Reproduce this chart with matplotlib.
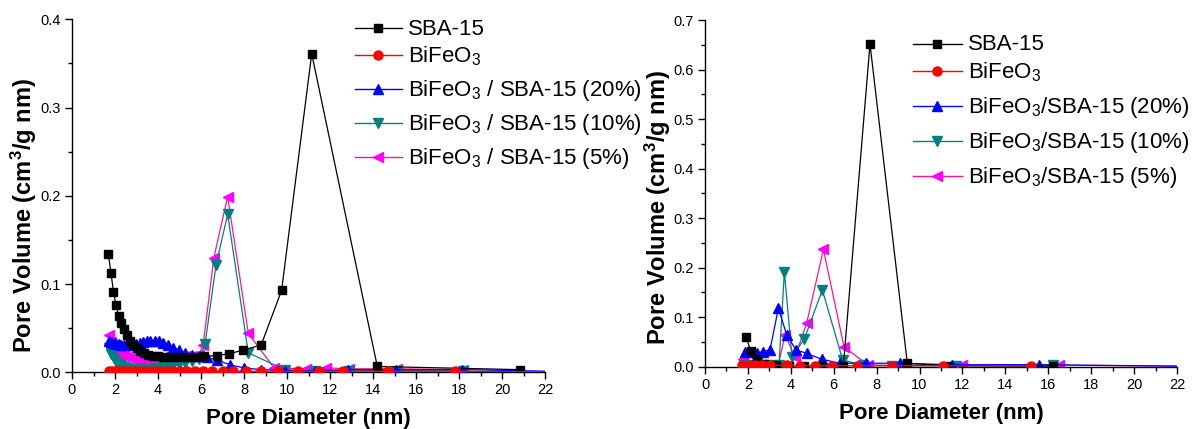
import matplotlib
matplotlib.use('Agg')
import matplotlib.pyplot as plt
from matplotlib.lines import Line2D
from matplotlib.ticker import MultipleLocator, FormatStrFormatter

plt.rcParams['font.family'] = ['Liberation Sans', 'DejaVu Sans']
plt.rcParams['mathtext.fontset'] = 'custom'
plt.rcParams['mathtext.rm'] = 'Liberation Sans'
plt.rcParams['mathtext.it'] = 'Liberation Sans:italic'
plt.rcParams['mathtext.bf'] = 'Liberation Sans:bold'

# ---------------- data: left panel ----------------
left_labels = ['SBA-15', 'BiFeO$_3$', 'BiFeO$_3$ / SBA-15 (20%)',
               'BiFeO$_3$ / SBA-15 (10%)', 'BiFeO$_3$ / SBA-15 (5%)']

L_sba_x = [1.69, 1.81, 1.93, 2.05, 2.17, 2.29, 2.42, 2.55, 2.69, 2.84, 3.0, 3.17,
           3.35, 3.55, 3.77, 4.0, 4.25, 4.55, 4.9, 5.3, 5.7, 6.15, 6.73, 7.3, 7.95,
           8.8, 9.75, 11.15, 14.2, 20.85]
L_sba_y = [0.134, 0.113, 0.091, 0.076, 0.064, 0.056, 0.049, 0.042, 0.036, 0.031, 0.027,
           0.024, 0.022, 0.020, 0.019, 0.018, 0.017, 0.017, 0.017, 0.017, 0.017, 0.018,
           0.019, 0.021, 0.025, 0.031, 0.093, 0.361, 0.0066, 0.003]

L_bfo_x = [1.7, 1.85, 2.0, 2.15, 2.3, 2.5, 2.7, 2.9, 3.1, 3.35, 3.6, 3.85, 4.1, 4.4,
           4.7, 5.0, 5.35, 5.7, 6.1, 6.5, 7.0, 7.5, 8.1, 8.8, 9.6, 10.5, 11.5, 12.6,
           14.7, 17.8, 25.0]
L_bfo_y = [0.0015, 0.0016, 0.0015, 0.0014, 0.0014, 0.0013, 0.0013, 0.0012, 0.0012,
           0.0012, 0.0012, 0.0012, 0.0012, 0.0012, 0.0012, 0.0012, 0.0012, 0.0012,
           0.0012, 0.0012, 0.0012, 0.0012, 0.0012, 0.0012, 0.0012, 0.0012, 0.0012,
           0.0012, 0.0012, 0.0012, 0.0]

L_dense_x = [1.7, 1.82, 1.94, 2.06, 2.18, 2.3, 2.43, 2.56, 2.7, 2.84, 2.99, 3.14, 3.3,
             3.47, 3.65, 3.84, 4.04, 4.25, 4.48, 4.72, 4.98, 5.26, 5.56, 5.9]

L_b20_x = L_dense_x + [6.27, 6.73, 7.35, 8.0, 8.8, 9.9, 11.3, 12.85, 15.05, 18.15, 25.0]
L_b20_y = [0.036, 0.034, 0.033, 0.032, 0.032, 0.031, 0.031, 0.031, 0.031, 0.032, 0.032,
           0.033, 0.034, 0.035, 0.036, 0.036, 0.035, 0.033, 0.031, 0.028, 0.025, 0.022,
           0.020, 0.018, 0.017, 0.014, 0.0085, 0.005, 0.003, 0.002, 0.002, 0.003, 0.003,
           0.003, 0.0]

L_b10_x = L_dense_x + [6.19, 6.7, 7.24, 8.2, 9.9, 11.3, 12.9, 15.1, 18.2]
L_b10_y = [0.027, 0.021, 0.016, 0.012, 0.009, 0.007, 0.006, 0.005, 0.004, 0.004, 0.004,
           0.004, 0.004, 0.004, 0.004, 0.005, 0.005, 0.006, 0.007, 0.008, 0.009, 0.011,
           0.013, 0.015, 0.032, 0.122, 0.179, 0.022, 0.003, 0.002, 0.002, 0.002, 0.002]

L_b5_x = L_dense_x + [6.1, 6.6, 7.24, 8.2, 9.4, 10.9, 11.8, 12.9, 15.1, 18.2]
L_b5_y = [0.042, 0.034, 0.028, 0.024, 0.021, 0.019, 0.018, 0.017, 0.016, 0.015, 0.015,
          0.015, 0.015, 0.015, 0.015, 0.016, 0.016, 0.017, 0.017, 0.018, 0.018, 0.019,
          0.019, 0.020, 0.031, 0.130, 0.199, 0.044, 0.005, 0.004, 0.005, 0.004, 0.004,
          0.003]

# ---------------- data: right panel ----------------
right_labels = ['SBA-15', 'BiFeO$_3$', 'BiFeO$_3$/SBA-15 (20%)',
                'BiFeO$_3$/SBA-15 (10%)', 'BiFeO$_3$/SBA-15 (5%)']

R_sba_x = [1.91, 2.14, 2.41, 2.8, 3.3, 3.9, 4.6, 5.4, 6.45, 7.69, 9.43, 11.3, 16.2]
R_sba_y = [0.060, 0.031, 0.015, 0.005, 0.003, 0.002, 0.002, 0.002, 0.002, 0.652, 0.007,
           0.002, 0.001]

R_bfo_x = [1.71, 2.02, 2.33, 2.65, 3.03, 3.81, 4.43, 5.13, 5.9, 7.07, 8.7, 11.1, 15.2]
R_bfo_y = [0.003, 0.003, 0.003, 0.003, 0.003, 0.003, 0.002, 0.002, 0.002, 0.002, 0.002,
           0.002, 0.002]

R_b20_x = [1.86, 2.18, 2.41, 2.69, 3.03, 3.42, 3.81, 4.24, 4.74, 5.44, 6.29, 7.49, 9.09,
           11.5, 15.57, 25.0]
R_b20_y = [0.030, 0.030, 0.028, 0.030, 0.034, 0.118, 0.064, 0.034, 0.027, 0.015, 0.007,
           0.007, 0.007, 0.004, 0.004, 0.0]

R_b10_x = [1.8, 2.2, 2.6, 3.0, 3.45, 3.7, 4.05, 4.63, 5.47, 6.42, 7.38, 8.7, 11.7, 16.2]
R_b10_y = [0.004, 0.003, 0.003, 0.003, 0.004, 0.192, 0.020, 0.056, 0.155, 0.0135, 0.003,
           0.002, 0.002, 0.003]

R_b5_x = [1.79, 2.2, 2.6, 3.0, 3.42, 3.73, 4.2, 4.74, 5.52, 6.48, 7.61, 12.0, 16.5, 25.0]
R_b5_y = [0.015, 0.004, 0.003, 0.003, 0.004, 0.064, 0.020, 0.088, 0.237, 0.040, 0.003,
          0.003, 0.003, 0.0]

colors = ['#000000', '#FF0000', '#0000FF', '#008080', '#FF00FF']
line_colors = ['#000000', '#FF0000', '#0000FF', '#008080', '#FF1493']
markers = ['s', 'o', '^', 'v', '<']
msizes = [6, 6.5, 7.5, 7.5, 7.5]
zorders = [5, 6, 4, 3, 2]

fig = plt.figure(figsize=(11.95, 4.29), dpi=100)
W, H = 1195.0, 429.0
axL = fig.add_axes([72 / W, (H - 372.3) / H, 473 / W, 353 / H])
axR = fig.add_axes([705 / W, (H - 366.7) / H, 472 / W, 346.5 / H])


def style(ax, ymax, xpad):
    for s in ['top', 'right']:
        ax.spines[s].set_visible(False)
    for s in ['left', 'bottom']:
        ax.spines[s].set_linewidth(1.0)
    ax.set_xlim(0, 22)
    ax.set_ylim(0, ymax)
    ax.xaxis.set_major_locator(MultipleLocator(2))
    ax.xaxis.set_minor_locator(MultipleLocator(1))
    ax.yaxis.set_major_locator(MultipleLocator(0.1))
    ax.yaxis.set_minor_locator(MultipleLocator(0.05))
    ax.yaxis.set_major_formatter(FormatStrFormatter('%.1f'))
    ax.tick_params(which='major', direction='out', length=5, width=1, labelsize=10.5,
                   top=False, right=False, pad=3)
    ax.tick_params(which='minor', direction='out', length=3, width=1,
                   top=False, right=False)
    ax.set_xlabel('Pore Diameter (nm)', fontsize=16, fontweight='bold', labelpad=xpad)
    ax.set_ylabel(r'Pore Volume (cm$^{\mathbf{3}}$/g nm)', fontsize=17,
                  fontweight='bold')


def draw(ax, xs, ys):
    for i in range(5):
        ax.plot(xs[i], ys[i], color=line_colors[i], lw=0.9, marker=markers[i],
                ms=msizes[i], mfc=colors[i], mec=colors[i], zorder=zorders[i])


def legend(labels, x0, x1, xtext, rows):
    for i, lab in enumerate(labels):
        yy = 1 - rows[i] / H
        fig.add_artist(Line2D([x0 / W, x1 / W], [yy, yy], transform=fig.transFigure,
                              color=line_colors[i], lw=1.0))
        fig.add_artist(Line2D([(x0 + x1) / 2 / W], [yy], transform=fig.transFigure,
                              marker=markers[i], ms=msizes[i], color=colors[i],
                              mfc=colors[i], mec=colors[i], lw=0))
        fig.text(xtext / W, 1 - (rows[i] + 7) / H, lab, fontsize=16,
                 ha='left', va='baseline')


draw(axL, [L_sba_x, L_bfo_x, L_b20_x, L_b10_x, L_b5_x],
     [L_sba_y, L_bfo_y, L_b20_y, L_b10_y, L_b5_y])
draw(axR, [R_sba_x, R_bfo_x, R_b20_x, R_b10_x, R_b5_x],
     [R_sba_y, R_bfo_y, R_b20_y, R_b10_y, R_b5_y])

style(axL, 0.4, 7.5)
style(axR, 0.7, 8)
axL.yaxis.set_label_coords(-0.07, 0.443)
axR.yaxis.set_label_coords(-0.068, 0.46)

legend(left_labels, 355, 401.7, 408, [28.3, 55, 89.3, 122.7, 156.7])
legend(right_labels, 912.7, 962, 968, [43.5, 71, 106.3, 141.3, 176.3])

fig.savefig('out.png', dpi=100)
